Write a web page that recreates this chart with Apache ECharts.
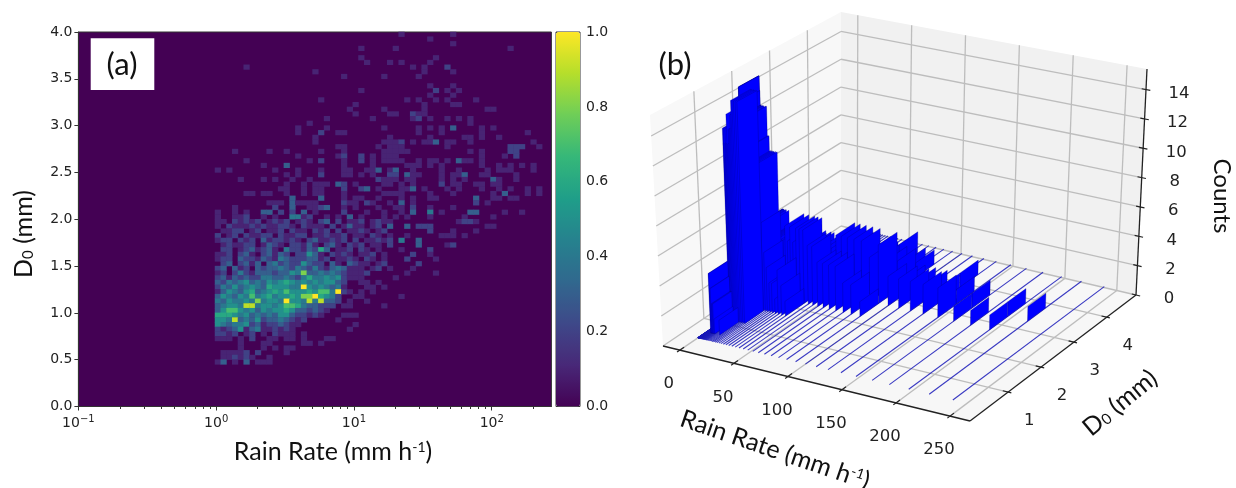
<!DOCTYPE html>
<html>
<head>
<meta charset="utf-8">
<script src="https://cdn.jsdelivr.net/npm/echarts@6/dist/echarts.min.js"></script>
<style>
  html, body { margin: 0; padding: 0; background: #fff; }
  #main { width: 1236px; height: 488px; }
</style>
</head>
<body>
<div id="main"></div>
<script>
// Rain rate bins shared by both panels (mm/h), 24 per decade
const rainBins = [
  0.1, 0.11, 0.121, 0.133, 0.147, 0.162, 0.178, 0.196, 0.215, 0.237, 0.261, 0.287,
  0.316, 0.348, 0.383, 0.422, 0.464, 0.511, 0.562, 0.619, 0.681, 0.75, 0.825, 0.909,
  1, 1.1, 1.21, 1.33, 1.47, 1.62, 1.78, 1.96, 2.15, 2.37, 2.61, 2.87,
  3.16, 3.48, 3.83, 4.22, 4.64, 5.11, 5.62, 6.19, 6.81, 7.5, 8.25, 9.09,
  10, 11, 12.1, 13.3, 14.7, 16.2, 17.8, 19.6, 21.5, 23.7, 26.1, 28.7,
  31.6, 34.8, 38.3, 42.2, 46.4, 51.1, 56.2, 61.9, 68.1, 75, 82.5, 90.9,
  100, 110, 121, 133, 147, 162, 178, 196, 215, 237
];

// Panel (a): one row per D0 bin from the top (0.05 mm each), "column:tenths..." runs, a = 1.0
const heatRows = [
  "32:1 41:1", "37:1", "41:1", "25:1 31:1 51:1", "", "25:1 38:1", "26:1 30:1 32:1 37:1",
  "5:1 34:1 36:1 40:2", "17:1 36:1 41:1", "22:1 29:1 35:1", "", "37:1 41:1",
  "25:1 38:2 40:1 42:1", "37:1 41:1", "18:1 33:1 35:1 38:1 40:1 45:1", "24:1 36:1 41:11",
  "23:1 29:1 36:1 47:11", "24:1 30:11 34:21 36:1", "19:1 27:1 34:1 35:2 37:1 40:1 42:1 44:1",
  "16:1 44:1", "14:1 19:1 29:1 35:1 37:1 39:1 41:3 46:1 48:1",
  "14:1 18:2 21:1 22:1 35:1 39:1 46:1 54:1", "17:1 30:1 37:1 43:11 46:1 49:1",
  "17:1 29:111 32:2 34:1 36:11 38:3 40:11 44:1 55:1", "21:1 22:1 28:1 30:11 32:1 40:1 51:222 56:1",
  "3:1 9:1 12:1 18:1 22:1 29:11111 44:1 46:1 51:22", "14:1 21:12 25:2 27:1 29:111 46:1 50:1 52:2",
  "5:1 16:1 18:2 22:1 25:2 27:1 29:1111 35:1 37:11 40:1 42:3 43:11 46:1",
  "8:1 12:3 22:1 27:1 33:1 34:11 37:1 39:1 46:1 49:1 51:1 53:1 55:1",
  "0:1 2:1 10:1 14:1 18:1 22:11 26:11 28:3 30:13 34:1 39:1 42:1 47:1 49:1 50:11 55:1",
  "12:1 14:1 18:2 22:11 25:1 27:1 30:22 33:3 34:1 35:1 39:1 41:11 43:3 46:11 52:1",
  "4:1 8:1 10:1 13:1 16:1 28:2 29:11 31:1 33:1 34:1 39:1 41:1 43:1 48:3 49:1 52:1",
  "12:1 15:1 17:11 19:1 21:32 24:1 29:1 30:1 32:1 34:1 39:2 41:11 45:11 48:1 49:1",
  "11:11 15:1 17:11 22:2 25:2 26:3 28:1 32:11 34:3 36:1 40:1 42:1 46:1 49:1 51:1 54:1 56:1",
  "5:11 8:11 12:1 15:1 17:11 22:1 29:1 30:11 32:1 37:1 41:1 48:1 50:3 54:1 56:1",
  "13:3 18:3 22:1 24:1 25:1 28:1 32:1 34:1 37:11 45:3 48:11 51:11",
  "9:111 13:3 14:1111 22:2 23:1 24:1 26:2 27:1 30:1 32:3 34:1 45:2 47:1",
  "3:1 10:2 13:3 16:111 18:2 19:3 22:1 24:1 28:1 31:11 34:2 37:1 41:1",
  "0:1 3:1 5:1 8:33 11:2 13:2 15:3 17:1 22:2 26:1 29:1 32:1 34:3 37:4 39:1 44:33 50:1 53:1",
  "0:1 3:11 5:2 8:1 10:1 13:44 15:1 16:2 19:1 21:1 23:3 25:1 29:1 31:1 33:1 37:1 43:1 48:1",
  "0:1102121201212012102302011201211 42:1 43:2 44:21",
  "0:1021112121122102111020131101203 33:3 35:22 37:2 47:11",
  "0:0112201201120211021202011210120 37:2 41:1 45:1",
  "0:2012021122021122011211201102101 33:1 39:11 41:1 43:1",
  "0:1220212031221210231121202011212 32:4 35:3",
  "0:0121122013210221310231021201102 35:3 40:1 41:2",
  "1:2201231231042213263011202101 32:1 37:2",
  "0:112023102313202253102121011201 34:2 37:1",
  "0:122032213214322233120112102101 33:2 38:1",
  "1:230231303423225322031032110120 35:2",
  "0:2303120323343243242134311101201 34:1",
  "0:1202421333233548334343211120 33:1 38:1",
  "0:231323224433432464454521110 31:1",
  "0:32434534354565454545532 25:11 28:1",
  "0:243534543655544a5454341 26:11 29:1",
  "0:135435634565755565774a21 25:1 27:1",
  "0:35435474564556588a6542 24:11 32:1",
  "0:435445484554a554949332 23:1 26:1",
  "0:345549945545776433222 22:11 29:1",
  "0:35775453545565332321",
  "0:6665453434355322121 22:111",
  "0:5549343523343212 21:1",
  "0:543445231223211 24:1",
  "0:21235134112121 23:1",
  "0:2212012010211101",
  "0:1110102001101101 19:11",
  "4:1 8:11 15:11 18:1",
  "4:1 8:1 10:1 12:11",
  "1:1 2:11 4:1 5:2 7:2 12:1",
  "1:112121 9:1",
  "0:1 1:3 3:1 5:3 7:1 8:1 9:1"
];
const heatColumnCount = 58;
const heatRowCount = 80;
const heatFirstRainBin = 24;

// Panel (b): counts per D0 bin for rain bins from 1 mm/h up, one hex digit per D0 bin
const d0Edges = [0.6, 1.14, 1.68, 2.22, 2.76, 3.3, 3.84, 4.38, 4.92];
const floorLineStart = 0.35;
const barCounts = [
  "00f40000", "00f30000", "00f40000", "00e30000", "00f50000", "00d40000", "00e50000", "00d50000",
  "00d50000", "00c50000", "00d40000", "00c50000", "00c41000", "00d40000", "4dc41000", "4cd50000",
  "3dc41000", "3bd50000", "2cc31000", "2dc40000", "2cd41000", "1ed51000", "0cb41000", "0db41000",
  "0da42000", "0ea41000", "1fa42000", "0fa42000", "0fa41000", "0fa32000", "0f642000", "00442000",
  "00352000", "00243000", "00252000", "00143100", "00353100", "00252100", "00153100", "00043100",
  "00043200", "00034200", "00034210", "00034210", "00034210", "00024220", "00023210", "00014210",
  "00002100", "00002100", "00002100", "00002110", "00002100", "00001100", "00001000", "00001100",
  "00000100", "00000000"
];

// Tick labels
const logMajorTicks = [0.1, 1, 10, 100];
const logMinorTicks = [
  0.2, 0.3, 0.4, 0.5, 0.6, 0.7, 0.8, 0.9,
  2, 3, 4, 5, 6, 7, 8, 9,
  20, 30, 40, 50, 60, 70, 80, 90,
  200
];
const rainTicks = [0, 50, 100, 150, 200, 250];
const d0Ticks = [1, 2, 3, 4];
const countTicks = [0, 2, 4, 6, 8, 10, 12, 14];

const viridis = ["#440154", "#482878", "#3e4989", "#31688e", "#26828e", "#1f9e89", "#35b779", "#6ece58", "#b5de2b", "#fde725"];
const tickFont = "'DejaVu Sans', sans-serif";
const titleFont = "Lato, sans-serif";
const textColor = "#222";

// Limits of the 3D box and where its corners fall on the page plane.
// Order of corners: [rain, d0, count] as 0/1 flags -> index = r + 2*d + 4*c
const rainMin = -15.6, rainMax = 268.5;
const d0Min = -0.16, d0Max = 4.89;
const countMax = 15.4;
const boxCorners = [
  [663, 346], [970, 421], [841, 226], [1136, 295],
  [650, 115], [973, 178], [841, 12], [1147, 69]
];

function project(rain, d0, count) {
  const u = (rain - rainMin) / (rainMax - rainMin);
  const v = (d0 - d0Min) / (d0Max - d0Min);
  const w = count / countMax;
  const out = [0, 0];
  boxCorners.forEach((p, i) => {
    const k = (i & 1 ? u : 1 - u) * (i & 2 ? v : 1 - v) * (i & 4 ? w : 1 - w);
    out[0] += p[0] * k;
    out[1] += p[1] * k;
  });
  return out;
}

function buildHeatData() {
  const data = [];
  heatRows.forEach((row, r) => {
    row.split(" ").filter(Boolean).forEach((run) => {
      const [start, digits] = run.split(":");
      [...digits].forEach((d, i) => {
        const value = d === "a" ? 1 : Number(d) / 10;
        if (value > 0) data.push([Number(start) + i, r, value]);
      });
    });
  });
  return data;
}

function buildBarData() {
  const floorLines = rainBins.map((rain) => [rain, floorLineStart, d0Edges[d0Edges.length - 1], 0]);
  const plates = [];
  barCounts.forEach((row, i) => {
    const rain = rainBins[heatFirstRainBin + i];
    // far D0 bins first so nearer ones paint over them
    for (let k = row.length - 1; k >= 0; k--) {
      const count = parseInt(row[k], 16);
      if (count > 0) plates.push([rain, d0Edges[k], d0Edges[k + 1], count]);
    }
  });
  return { floorLines, plates };
}

function renderBox(params, api) {
  const pt = (r, d, c) => api.coord(project(r, d, c));
  const poly = (points, fill) => ({
    type: "polygon", shape: { points }, style: { fill: fill, stroke: null }
  });
  const seg = (a, b, color, width) => ({
    type: "line", shape: { x1: a[0], y1: a[1], x2: b[0], y2: b[1] },
    style: { stroke: color, lineWidth: width }
  });
  const label = (text, p, dx, dy) => ({
    type: "text", x: p[0] + dx, y: p[1] + dy,
    style: { text: String(text), fill: textColor, font: "16.5px " + tickFont, align: "center", verticalAlign: "middle" }
  });
  const gridColor = "#bdbdbd";
  const axisColor = "#222";
  const children = [
    poly([pt(rainMin, d0Min, 0), pt(rainMin, d0Max, 0), pt(rainMin, d0Max, countMax), pt(rainMin, d0Min, countMax)], "#f8f8f8"),
    poly([pt(rainMin, d0Max, 0), pt(rainMax, d0Max, 0), pt(rainMax, d0Max, countMax), pt(rainMin, d0Max, countMax)], "#f1f1f1"),
    poly([pt(rainMin, d0Min, 0), pt(rainMax, d0Min, 0), pt(rainMax, d0Max, 0), pt(rainMin, d0Max, 0)], "#f7f7f7")
  ];
  rainTicks.forEach((r) => {
    children.push(seg(pt(r, d0Min, 0), pt(r, d0Max, 0), gridColor, 1.3));
    children.push(seg(pt(r, d0Max, 0), pt(r, d0Max, countMax), gridColor, 1.3));
    children.push(seg(pt(r, d0Min - 0.08, 0), pt(r, d0Min + 0.12, 0), axisColor, 1.2));
    children.push(label(r, pt(r, d0Min, 0), -11, 34));
  });
  d0Ticks.forEach((d) => {
    children.push(seg(pt(rainMin, d, 0), pt(rainMax, d, 0), gridColor, 1.3));
    children.push(seg(pt(rainMin, d, 0), pt(rainMin, d, countMax), gridColor, 1.3));
    children.push(seg(pt(rainMax - 5, d, 0), pt(rainMax + 3, d, 0), axisColor, 1.2));
    children.push(label(d, pt(rainMax, d, 0), 21, 29));
  });
  countTicks.forEach((c) => {
    children.push(seg(pt(rainMin, d0Min, c), pt(rainMin, d0Max, c), gridColor, 1.3));
    children.push(seg(pt(rainMin, d0Max, c), pt(rainMax, d0Max, c), gridColor, 1.3));
    children.push(seg(pt(rainMax - 4, d0Max, c), pt(rainMax + 4, d0Max, c), axisColor, 1.2));
    children.push(label(c, pt(rainMax, d0Max, c), 33, 4));
  });
  children.push(seg(pt(rainMin, d0Min, 0), pt(rainMax, d0Min, 0), axisColor, 1.3));
  children.push(seg(pt(rainMax, d0Min, 0), pt(rainMax, d0Max, 0), axisColor, 1.3));
  children.push(seg(pt(rainMax, d0Max, 0), pt(rainMax, d0Max, countMax), axisColor, 1.3));
  return { type: "group", children };
}

// Each bar is a flat plate at one rain bin; a zero count leaves only its thin floor line
function renderBar(params, api) {
  const rain = api.value(0), lo = api.value(1), hi = api.value(2), count = api.value(3);
  if (count === 0) {
    const a = api.coord(project(rain, lo, 0));
    const b = api.coord(project(rain, hi, 0));
    return {
      type: "line", shape: { x1: a[0], y1: a[1], x2: b[0], y2: b[1] },
      style: { stroke: "rgba(25,25,185,0.85)", lineWidth: 1.1 }
    };
  }
  return {
    type: "polygon",
    shape: {
      points: [
        api.coord(project(rain, lo, 0)), api.coord(project(rain, hi, 0)),
        api.coord(project(rain, hi, count)), api.coord(project(rain, lo, count))
      ]
    },
    style: { fill: "#0000ff", stroke: "rgba(0,0,110,0.45)", lineWidth: 0.6 }
  };
}

const barData = buildBarData();
const mainGrid = { left: 78.4, top: 32, width: 473, height: 374.5 };
const hiddenAxis = { show: false };
const titleRich = {
  t: { fontFamily: titleFont, fontSize: 25, fill: "#111", color: "#111" },
  up: { fontFamily: titleFont, fontSize: 14, fill: "#111", color: "#111", padding: [0, 0, 10, 0] },
  dn: { fontFamily: titleFont, fontSize: 15, fill: "#111", color: "#111", padding: [8, 0, 0, 0] }
};

const chart = echarts.init(document.getElementById("main"), null, { renderer: "canvas" });
chart.setOption({
  animation: false,
  backgroundColor: "#fff",
  grid: [
    { ...mainGrid, show: true, backgroundColor: viridis[0], borderColor: "#333", borderWidth: 1 },
    { left: 215, top: 32, width: heatColumnCount * 5.74, height: 374.5 },
    { left: 556, top: 32, width: 24, height: 374.5, show: true, backgroundColor: "transparent", borderColor: "#333", borderWidth: 1 },
    { left: 0, top: 0, width: 1236, height: 488 }
  ],
  xAxis: [
    {
      gridIndex: 0, type: "log", logBase: 10, min: 0.1, max: 271, position: "bottom",
      axisLine: { show: true, onZero: false, lineStyle: { color: "#333" } },
      axisTick: { show: true, length: 4, customValues: logMajorTicks, lineStyle: { color: "#333" } },
      axisLabel: {
        customValues: logMajorTicks, color: textColor, margin: 8,
        formatter: (value) => `{b|10}{s|${Math.round(Math.log10(value)) < 0 ? "\u2212" : ""}${Math.abs(Math.round(Math.log10(value)))}}`,
        rich: {
          b: { fontFamily: tickFont, fontSize: 14, color: textColor },
          s: { fontFamily: tickFont, fontSize: 10, color: textColor, padding: [0, 0, 7, 0] }
        }
      },
      splitLine: { show: false }
    },
    {
      gridIndex: 0, type: "log", logBase: 10, min: 0.1, max: 271, position: "bottom",
      axisLine: { show: false },
      axisTick: { show: true, length: 2.5, customValues: logMinorTicks, lineStyle: { color: "#333" } },
      axisLabel: { show: false },
      splitLine: { show: false }
    },
    {
      gridIndex: 1, type: "category", show: false, boundaryGap: true,
      data: rainBins.slice(heatFirstRainBin, heatFirstRainBin + heatColumnCount)
    },
    { gridIndex: 2, type: "value", ...hiddenAxis },
    { gridIndex: 3, type: "value", min: 0, max: 1236, ...hiddenAxis }
  ],
  yAxis: [
    {
      gridIndex: 0, type: "value", min: 0, max: 4, interval: 0.5,
      axisLine: { show: true, onZero: false, lineStyle: { color: "#333" } },
      axisTick: { show: true, length: 4, lineStyle: { color: "#333" } },
      axisLabel: { color: textColor, fontFamily: tickFont, fontSize: 14, margin: 6, formatter: (v) => v.toFixed(1) },
      splitLine: { show: false }
    },
    {
      gridIndex: 1, type: "category", show: false, inverse: true, boundaryGap: true,
      data: Array.from({ length: heatRowCount }, (_, r) => r)
    },
    {
      gridIndex: 2, type: "value", min: 0, max: 1, interval: 0.2, position: "right",
      axisLine: { show: false },
      axisTick: { show: true, length: 4, lineStyle: { color: "#333" } },
      axisLabel: { color: textColor, fontFamily: tickFont, fontSize: 14, margin: 6, formatter: (v) => v.toFixed(1) },
      splitLine: { show: false }
    },
    { gridIndex: 3, type: "value", min: 0, max: 488, inverse: true, ...hiddenAxis }
  ],
  visualMap: {
    type: "continuous", show: true, seriesIndex: 0, min: 0, max: 1,
    left: 556, top: 32, itemWidth: 24, itemHeight: 374.5, padding: 0,
    text: null, showLabel: false, calculable: false, hoverLink: false,
    inRange: { color: viridis }
  },
  series: [
    {
      name: "Normalized counts", type: "heatmap", xAxisIndex: 2, yAxisIndex: 1,
      data: buildHeatData(), progressive: 0, silent: true, z: 3
    },
    {
      name: "3D box", type: "custom", xAxisIndex: 4, yAxisIndex: 3, clip: false, silent: true,
      data: [[0, 0]], renderItem: renderBox, z: 2
    },
    {
      name: "Floor lines", type: "custom", xAxisIndex: 4, yAxisIndex: 3, clip: false, silent: true,
      encode: { x: 0, y: 1 }, data: barData.floorLines, renderItem: renderBar, z: 3
    },
    {
      name: "Counts", type: "custom", xAxisIndex: 4, yAxisIndex: 3, clip: false, silent: true,
      encode: { x: 0, y: 1 }, data: barData.plates, renderItem: renderBar, z: 4
    }
  ],
  graphic: [
    { type: "rect", z: 100, shape: { x: 90.7, y: 38.3, width: 63.6, height: 51.7 }, style: { fill: "#fff" } },
    { type: "text", z: 101, x: 122, y: 65, style: { text: "(a)", font: "31px " + titleFont, fill: "#111", align: "center", verticalAlign: "middle" } },
    { type: "text", z: 101, x: 675, y: 65, style: { text: "(b)", font: "31px " + titleFont, fill: "#111", align: "center", verticalAlign: "middle" } },
    {
      type: "text", z: 101, x: 333, y: 452,
      style: { text: "{t|Rain Rate (mm h}{up|-1}{t|)}", align: "center", verticalAlign: "middle", rich: titleRich }
    },
    {
      type: "text", z: 101, x: 24, y: 234, rotation: Math.PI / 2,
      style: { text: "{t|D}{dn|0}{t| (mm)}", align: "center", verticalAlign: "middle", rich: titleRich }
    },
    {
      type: "text", z: 101, x: 775, y: 450, rotation: -0.33,
      style: { text: "{t|Rain Rate (mm h}{up|-1}{t|)}", align: "center", verticalAlign: "middle", rich: titleRich }
    },
    {
      type: "text", z: 101, x: 1120, y: 403, rotation: 0.69,
      style: { text: "{t|D}{dn|0}{t| (mm)}", align: "center", verticalAlign: "middle", rich: titleRich }
    },
    {
      type: "text", z: 101, x: 1222, y: 196, rotation: -Math.PI / 2,
      style: { text: "Counts", font: "24px " + titleFont, fill: "#111", align: "center", verticalAlign: "middle" }
    }
  ]
});
</script>
</body>
</html>
